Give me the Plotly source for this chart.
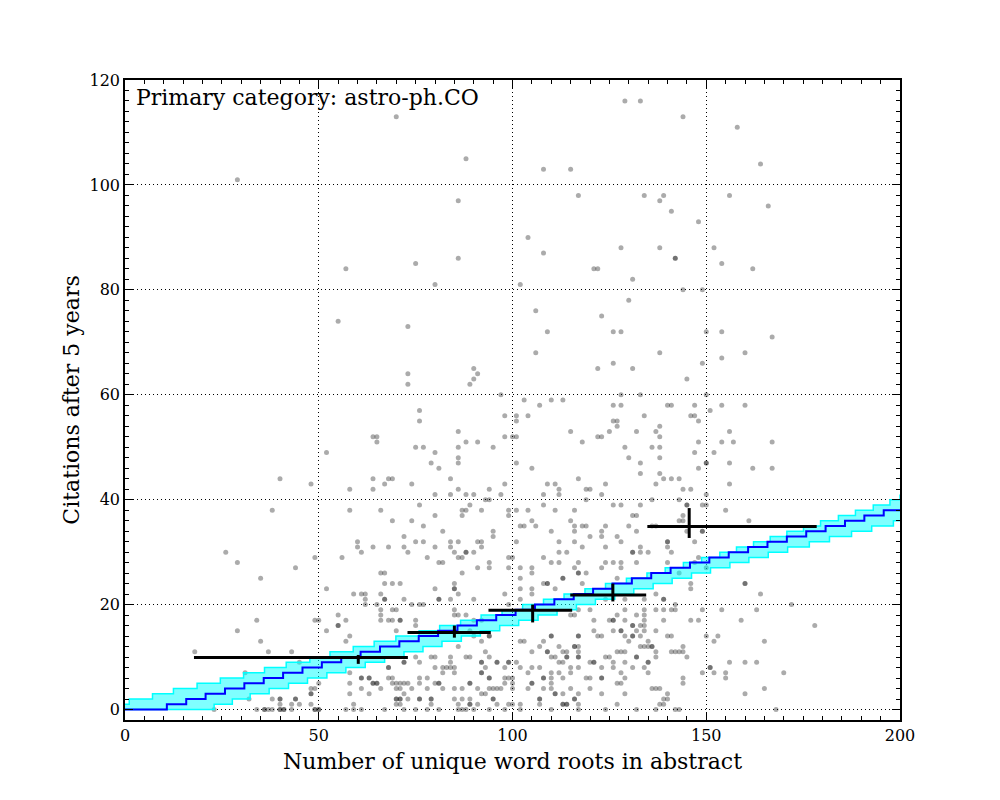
import plotly.graph_objects as go

# ---------------- scatter data: rows of citation count -> word-root counts
row_y = [116, 113, 111, 105, 104, 103, 101, 98, 97, 96, 95, 93, 90, 88, 87, 86, 85, 84, 82, 81, 80, 78, 76, 75, 74, 73, 72, 71, 68, 67, 66, 65, 64, 63, 62,
         60, 59, 58, 57, 56, 55, 54, 53, 52, 51, 50, 49, 48, 47, 46, 45, 44, 43, 42, 41, 40, 39, 38, 37, 36, 35, 34, 33, 32, 31, 30, 29,
         28, 27, 26, 25, 24, 23, 22, 21, 20, 19, 18, 17, 16, 15, 14, 13, 12, 11, 10, 9, 8, 7, 6, 5, 4, 3, 2, 1, 0]
row_x = [
    [129, 133], [70, 144], [158], [88], [164], [108, 115], [29], [117, 134, 139, 156], [86, 138], [166], [141], [148], [104],
    [128, 138, 152], [108], [86, 142, 142], [75, 154], [57, 121, 122, 162], [131], [80, 102], [144, 149], [130], [106], [123], [55], [73],
    [109, 126, 128, 150, 154], [167], [106, 138, 160], [154], [126, 149], [90, 122, 131], [73, 91], [90, 145], [73, 89],
    [97, 128, 133, 150],
    [103, 110, 113],
    [107, 126, 128, 140, 141, 147, 154, 160],
    [76, 151],
    [98, 101, 104, 134, 146, 147],
    [76, 101, 126, 127, 148],
    [127, 138],
    [86, 115, 125, 132, 137, 156],
    [64, 65, 98, 100, 101, 122, 123, 138],
    [65, 88, 91, 118, 148, 154, 157, 167],
    [75, 77, 86, 95, 129, 136, 138],
    [52, 80, 147, 152],
    [86, 130, 138],
    [79, 86, 101, 133, 150, 150, 156],
    [81, 105, 148, 162, 167],
    [133, 138],
    [40, 64, 68, 69, 84, 117, 139, 141, 143],
    [48, 67, 74, 98, 109, 111, 124, 137, 156],
    [58, 64, 86, 94, 112, 119, 120, 144, 146],
    [80, 84, 88, 90, 97, 108, 112, 123, 150],
    [93, 94, 119, 136, 143],
    [76, 89, 108, 126, 128, 133, 145, 145, 149, 150],
    [38, 58, 66, 87, 88, 92, 99, 101, 104, 111, 116, 155],
    [80, 87, 99, 131, 132, 144],
    [69, 74, 105, 115, 143, 144, 161],
    [77, 102, 103, 106, 116, 118, 119, 124, 130, 136, 137],
    [82, 95, 110, 116, 123, 132, 145, 149, 149],
    [72, 95, 120, 123, 127],
    [60, 75, 77, 84, 86, 91, 92, 101, 112, 116, 128, 140, 140, 147],
    [60, 64, 68, 72, 80, 84, 92, 118, 124, 133, 140],
    [26, 61, 73, 85, 88, 88, 90, 112, 114, 131, 131, 133, 135, 141],
    [49, 56, 78, 86, 87, 99, 100, 108, 148],
    [29, 81, 82, 94, 110, 112, 117, 124, 126, 128, 132, 140, 147],
    [44, 91, 94, 99, 102, 105, 116, 123, 128, 150],
    [66, 67, 87, 105, 117, 117, 119, 143],
    [35, 102, 113, 113, 127],
    [67, 69, 71, 85, 108, 109, 109, 118, 146, 160, 160],
    [52, 80, 85, 85, 102, 105, 111, 146],
    [59, 61, 62, 66, 86, 98, 105, 137, 164],
    [62, 67, 67, 72, 81, 81, 84, 90, 102, 124, 129, 134, 139, 139],
    [62, 65, 74, 76, 77, 99, 142, 172],
    [66, 69, 70, 85, 117, 120, 129, 134, 137, 139, 141, 142, 149, 154, 163],
    [55, 66, 85, 86, 88, 115, 116, 127, 132, 134],
    [34, 49, 50, 57, 66, 68, 69, 71, 71, 75, 90, 92, 121, 125, 126, 126, 129, 134, 139, 146, 148, 159],
    [55, 55, 75, 131, 131, 133, 134, 178],
    [29, 52, 70, 89, 121, 126, 128, 128, 132, 134, 137],
    [58, 90, 94, 94, 110, 110, 117, 117, 122, 123, 129, 131, 131, 133, 140, 141, 150, 153],
    [35, 57, 92, 102, 103, 108, 130, 135, 152, 165],
    [86, 107, 112, 116, 116, 117, 133, 134, 135, 136, 136, 144],
    [18, 37, 43, 93, 105, 109, 109, 113, 114, 117, 127, 128, 129, 137, 141, 142, 143, 144],
    [75, 79, 80, 84, 88, 89, 94, 110, 111, 114, 114, 117, 117, 124, 125, 132, 132, 137, 145],
    [45, 72, 72, 76, 84, 92, 92, 96, 96, 99, 99, 101, 112, 113, 120, 121, 121, 126, 129, 135, 135, 156, 160, 163],
    [68, 68, 80, 82, 83, 84, 85, 93, 98, 102, 105, 107, 115, 117, 123, 126, 131, 134, 151, 151],
    [31, 58, 82, 85, 92, 92, 104, 110, 112, 115, 128, 135, 149, 152, 155, 170],
    [61, 61, 63, 63, 68, 69, 76, 78, 94, 94, 98, 99, 100, 108, 108, 110, 113, 119, 120, 123, 123, 129, 144, 155],
    [50, 58, 64, 64, 65, 65, 69, 70, 71, 72, 73, 76, 80, 81, 81, 89, 89, 98, 100, 105, 105, 110, 127, 128, 144],
    [48, 49, 61, 66, 70, 71, 74, 78, 82, 85, 87, 91, 94, 95, 96, 97, 100, 104, 108, 110, 115, 120, 136, 137, 138, 165],
    [48, 48, 58, 63, 72, 92, 93, 111, 111, 113, 117, 123, 129, 140, 160],
    [32, 38, 40, 40, 44, 44, 70, 70, 71, 71, 73, 76, 76, 79, 79, 85, 87, 89, 95, 95, 107, 107, 116, 116, 139, 140],
    [40, 43, 45, 48, 59, 70, 71, 79, 86, 89, 89, 91, 96, 99, 100, 102, 107, 113, 113, 114, 114, 117, 127, 138, 139],
    [23, 34, 36, 36, 37, 38, 40, 40, 41, 41, 43, 49, 49, 50, 50, 57, 59, 61, 67, 72, 75, 78, 81, 86, 87, 88, 90, 94, 98, 102,
     110, 117, 124, 132, 137, 142, 143, 168],
]

# ---------------- model: median step line and band
med_x = [0, 10.8, 15.8, 20.8, 25.8, 30.8, 35.8, 40.8, 45.8, 50.8, 55.8, 60.8, 65.8, 70.8, 75.8, 80.8, 85.8, 90.8, 95.8, 100.8,
         105.8, 110.8, 115.8, 120.8, 125.8, 130.8, 135.8, 140.8, 145.8, 150.8, 155.8, 160.8, 165.8, 170.8, 175.8, 180.8, 185.8,
         190.8, 195.8, 200]
med_y = [0, 1, 2, 3, 4, 5, 6, 7, 8, 9, 10, 11, 12, 13, 14, 15, 16, 17, 18, 19, 20, 21, 22, 23, 24, 25, 26, 27, 28, 29, 30, 31,
         32, 33, 34, 35, 36, 37, 38, 38]
up_x = [0, 1.1, 7.1, 12.5, 18.6, 24.6, 30.6, 36.0, 41.6, 47.7, 52.9, 58.9, 64.3, 69.9, 75.9, 81.2, 86.6, 91.9, 97.3, 102.6,
        108.0, 113.3, 118.7, 124.0, 129.4, 134.7, 139.4, 144.1, 148.8, 153.5, 157.8, 162.2, 166.5, 170.8, 175.1, 179.5, 184.1,
        188.5, 193.1, 197.4, 200]
up_y = [1, 2, 3, 4, 5, 6, 7, 8, 9, 10, 11, 12, 13, 14, 15, 16, 17, 18, 19, 20, 21, 22, 23, 24, 25, 26, 27, 28, 29, 30, 31, 32,
        33, 34, 35, 36, 37, 38, 39, 40, 41]
lo_x = [0, 23.0, 27.7, 32.3, 37.2, 42.2, 47.1, 52.1, 57.0, 62.0, 67.0, 72.0, 76.9, 81.8, 86.8, 91.7, 96.7, 101.6, 106.6,
        111.5, 116.5, 121.4, 126.4, 131.3, 136.3, 141.2, 146.2, 151.1, 156.1, 161.0, 166.0, 171.0, 176.6, 181.8, 187.5, 192.7,
        198.3, 200]
lo_y = [0, 1, 2, 3, 4, 5, 6, 7, 8, 9, 10, 11, 12, 13, 14, 15, 16, 17, 18, 19, 20, 21, 22, 23, 24, 25, 26, 27, 28, 29, 30, 31,
        32, 33, 34, 35, 36, 36]

# ---------------- binned medians with ranges
bin_x = [60.2, 85.0, 105.2, 125.9, 145.6]
bin_x_lo = [17.8, 72.9, 93.8, 114.9, 134.8]
bin_x_hi = [73.0, 94.4, 115.4, 134.5, 178.5]
bin_y = [9.9, 14.7, 18.9, 21.85, 34.9]
bin_y_lo = [8.7, 13.7, 16.6, 20.6, 32.7]
bin_y_hi = [10.4, 16.0, 20.0, 24.0, 38.4]

label_text = "Primary category: astro-ph.CO"
x_title = "Number of unique word roots in abstract"
y_title = "Citations after 5 years"

pts_x, pts_y = [], []
for yv, xs in zip(row_y, row_x):
    for xv in xs:
        pts_x.append(xv)
        pts_y.append(yv)

fig = go.Figure()
fig.add_trace(go.Scatter(x=pts_x, y=pts_y, mode="markers",
                         marker=dict(size=5, color="rgba(0,0,0,0.33)", line=dict(width=0)),
                         showlegend=False, hoverinfo="skip"))
fig.add_trace(go.Scatter(x=lo_x, y=lo_y, mode="lines", line=dict(shape="hv", color="#00ffff", width=1.5),
                         showlegend=False))
fig.add_trace(go.Scatter(x=up_x, y=up_y, mode="lines", line=dict(shape="hv", color="#00ffff", width=1.5),
                         fill="tonexty", fillcolor="rgba(0,255,255,0.5)", showlegend=False))
fig.add_trace(go.Scatter(x=med_x, y=med_y, mode="lines", line=dict(shape="hv", color="#0000ff", width=2),
                         showlegend=False))
fig.add_trace(go.Scatter(
    x=bin_x, y=bin_y, mode="markers", marker=dict(size=1, color="black", opacity=0),
    error_x=dict(type="data", symmetric=False,
                 array=[h - c for h, c in zip(bin_x_hi, bin_x)],
                 arrayminus=[c - l for l, c in zip(bin_x_lo, bin_x)],
                 color="black", thickness=3, width=0),
    error_y=dict(type="data", symmetric=False,
                 array=[h - c for h, c in zip(bin_y_hi, bin_y)],
                 arrayminus=[c - l for l, c in zip(bin_y_lo, bin_y)],
                 color="black", thickness=3, width=0),
    showlegend=False))

font_family = "DejaVu Serif"
axis_common = dict(
    showline=True, linecolor="black", linewidth=1.5, mirror="allticks",
    ticks="inside", ticklen=8, tickwidth=1, tickcolor="black",
    showgrid=True, gridcolor="black", gridwidth=1, griddash="1px,3px",
    zeroline=False, automargin=False,
    tickfont=dict(family=font_family, size=16, color="black"),
)
fig.update_xaxes(range=[0, 200], dtick=50, tick0=0,
                 minor=dict(dtick=5, ticks="inside", ticklen=4, tickcolor="black", showgrid=False),
                 title=dict(text=x_title, font=dict(family=font_family, size=22, color="black"), standoff=10),
                 **axis_common)
fig.update_yaxes(range=[-2, 120], dtick=20, tick0=0,
                 minor=dict(dtick=2, ticks="inside", ticklen=4, tickcolor="black", showgrid=False),
                 title=dict(text=y_title, font=dict(family=font_family, size=22, color="black"), standoff=4),
                 **axis_common)
fig.add_annotation(text=label_text, xref="paper", yref="paper", x=0.011, y=0.995, xanchor="left", yanchor="top",
                   showarrow=False, font=dict(family=font_family, size=22, color="black"))
fig.update_layout(width=1000, height=800, plot_bgcolor="white", paper_bgcolor="white",
                  margin=dict(l=117, r=108, t=72, b=88))
fig.write_html("out.html")
